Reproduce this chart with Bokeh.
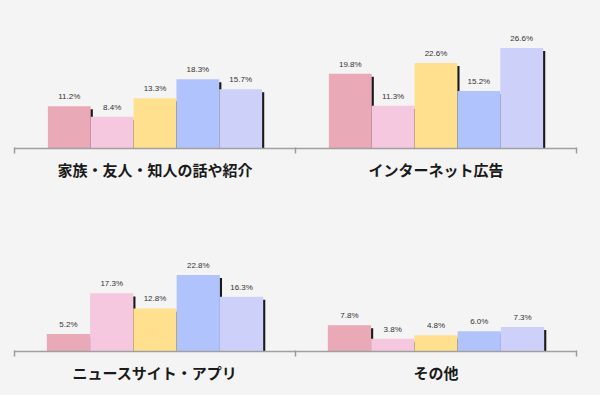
import numpy as np
from bokeh.plotting import figure
from bokeh.layouts import column
from bokeh.models import Range1d, FixedTicker, ColumnDataSource
from bokeh.embed import file_html
from bokeh.resources import INLINE
from bokeh.core.properties import value

# ---- data ----
row1_groups = ["家族・友人・知人の話や紹介", "インターネット広告"]
row1_values = [
    [11.2, 8.4, 13.3, 18.3, 15.7],
    [19.8, 11.3, 22.6, 15.2, 26.6],
]
row2_groups = ["ニュースサイト・アプリ", "その他"]
row2_values = [
    [5.2, 17.3, 12.8, 22.8, 16.3],
    [7.8, 3.8, 4.8, 6.0, 7.3],
]
series_colors = ["#e9a9b6", "#f6c8df", "#fee08f", "#b1c3fd", "#cdd1f9"]

BG = "#f4f4f4"


def make_row(groups, values, height, top_border, bottom_border, ymax, bar_w, shadow_drop):
    p = figure(width=600, height=height, output_backend="svg", toolbar_location=None,
               x_range=Range1d(0, 2), y_range=Range1d(0, ymax), y_axis_location=None,
               min_border_left=14, min_border_right=24,
               min_border_top=top_border, min_border_bottom=bottom_border)
    p.background_fill_color = BG
    p.border_fill_color = BG
    p.outline_line_color = None
    p.grid.visible = False

    xs, tops, cols, labels = [], [], [], []
    n = len(series_colors)
    for gi, vals in enumerate(values):
        for si, v in enumerate(vals):
            xs.append(gi + 0.5 + (si - (n - 1) / 2) * bar_w)
            tops.append(v)
            cols.append(series_colors[si])
            labels.append(f"{v:.1f}%")
    xs = np.array(xs)
    tops = np.array(tops)
    src = ColumnDataSource(dict(x=xs, top=tops, color=cols, label=labels,
                                sx=xs + 0.0075, stop=tops - shadow_drop))
    # shadow
    p.vbar(x="sx", top="stop", bottom=0, width=bar_w, source=src,
           fill_color="#1a1a1a", line_color=None)
    # bars
    p.vbar(x="x", top="top", bottom=0, width=bar_w, source=src,
           fill_color="color", line_color=None)
    # value labels
    p.text(x="x", y="top", text="label", source=src, text_align="center",
           text_baseline="bottom", y_offset=-5, text_font=value("Liberation Sans"),
           text_font_size="8px", text_color="#333333")

    ax = p.xaxis[0]
    ax.ticker = FixedTicker(ticks=[0.5, 1.5], minor_ticks=[0, 1, 2])
    ax.major_label_overrides = {0.5: groups[0], 1.5: groups[1]}
    ax.major_tick_in = 0
    ax.major_tick_out = 0
    ax.minor_tick_in = 1
    ax.minor_tick_out = 5
    ax.minor_tick_line_color = "#9a9a9a"
    ax.minor_tick_line_width = 1.5
    ax.axis_line_color = "#a0a0a0"
    ax.axis_line_width = 1.5
    ax.major_label_standoff = 5
    ax.major_label_text_font = "Noto Sans CJK JP"
    ax.major_label_text_font_style = "bold"
    ax.major_label_text_font_size = "15px"
    ax.major_label_text_color = "#1a1a1a"
    return p


# top row: frame 130px tall, 3.78 px per %
p1 = make_row(row1_groups, row1_values, 195, 18, 47, 130 / 3.78, 0.1525, 0.8)
# bottom row: frame 143px tall, 3.36 px per %
p2 = make_row(row2_groups, row2_values, 200, 13, 44, 143 / 3.36, 0.154, 0.9)

layout = column(p1, p2, spacing=0)
layout.styles = {"background-color": BG}

html = file_html(layout, INLINE).replace(
    "</head>", "<style>html,body{background:#f4f4f4;}</style></head>", 1)
open("out.html", "w").write(html)
